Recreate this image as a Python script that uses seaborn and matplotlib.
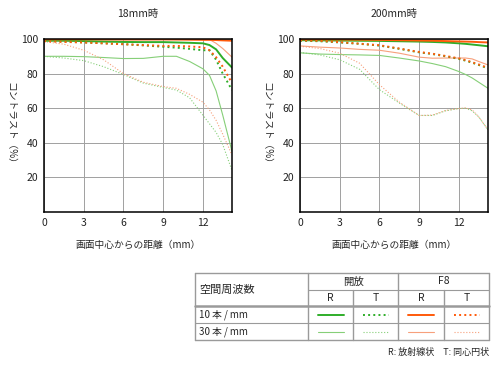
import pandas as pd
import seaborn as sns
import matplotlib.pyplot as plt

sns.set_theme(style="white")
plt.rcParams['font.family'] = ['Noto Sans CJK JP', 'DejaVu Sans']

# distance from image centre (mm)
X = [0, 1.5, 3, 4.5, 6, 7.5, 9, 10, 11, 12, 12.5, 13, 13.5, 14.2]

# 18mm
w18_open_R10 = [99, 99, 98.8, 98.5, 98.3, 98.2, 98.2, 98, 97.8, 97.5, 96.5, 94, 89, 83.5]
w18_open_T10 = [99, 98.5, 98, 97.5, 97, 96.3, 95.5, 95, 94.3, 93.5, 93.5, 88, 80, 70.5]
w18_f8_R10 = [99.8, 99.8, 99.8, 99.8, 99.8, 99.8, 99.8, 99.7, 99.6, 99.5, 99.5, 99.4, 99.2, 99]
w18_f8_T10 = [98.7, 98.3, 98, 97.5, 97, 96.5, 96, 96, 95.7, 95.2, 93.5, 89.5, 84, 74.5]
w18_open_R30 = [90, 90, 89.8, 89.3, 88.7, 88.8, 90, 90, 87, 82.8, 79, 70, 56, 35]
w18_open_T30 = [90, 89, 87.5, 84, 79.5, 74.5, 72, 70.5, 66, 56, 51, 46, 39, 24]
w18_f8_R30 = [99.5, 99.5, 99.5, 99.5, 99.5, 99.5, 99.6, 99.7, 99.8, 100, 99.7, 97.5, 94.5, 89.5]
w18_f8_T30 = [98.5, 97, 93.5, 88, 80, 75, 72.5, 71.5, 68, 63.5, 59, 53, 45, 33]

# 200mm
t200_open_R10 = [99.3, 99.2, 99.1, 99, 98.9, 98.7, 98.5, 98.3, 98, 97.5, 97.2, 96.8, 96.4, 95.8]
t200_open_T10 = [99, 98.7, 98, 97.2, 96.2, 94.3, 92.3, 91.3, 90, 88.5, 87.5, 86.3, 85, 83]
t200_f8_R10 = [99.8, 99.8, 99.7, 99.6, 99.5, 99.3, 99.1, 99, 98.8, 98.6, 98.5, 98.4, 98.2, 98]
t200_f8_T10 = [99.2, 98.9, 98.2, 97.3, 96.4, 94.5, 92.5, 91.5, 90.2, 88.8, 87.8, 86.6, 85.3, 83.3]
t200_open_R30 = [92, 91.3, 91, 90.8, 90.5, 89, 87.3, 85.8, 84, 81.2, 79.5, 77.5, 75, 71.5]
t200_open_T30 = [92.2, 90.8, 88, 82.5, 70.7, 63, 55.8, 55.8, 58.5, 59.8, 60, 58.5, 55, 47.5]
t200_f8_R30 = [96, 95.3, 94.8, 94, 93.5, 91.8, 89.5, 88.9, 89, 89, 89, 88.5, 87, 85]
t200_f8_T30 = [95.8, 94.5, 91.8, 86, 73.6, 63.5, 55.8, 56, 58.7, 59.8, 60.2, 59, 55, 47.5]

titles = ["18mm時", "200mm時"]
xlabel = "画面中心からの距離（mm）"
ylabel = "コントラスト（%）"

GREEN, GREEN_L = "#2fae2a", "#86cf78"
ORANGE, ORANGE_L = "#ff5a0a", "#f7a07c"

# colour, width, style per series
styles = {
    "open_R10": (GREEN, 1.4, "-"),
    "open_T10": (GREEN, 1.4, ":"),
    "f8_R10": (ORANGE, 1.4, "-"),
    "f8_T10": (ORANGE, 1.4, ":"),
    "open_R30": (GREEN_L, 0.8, "-"),
    "open_T30": (GREEN_L, 0.8, ":"),
    "f8_R30": (ORANGE_L, 0.8, "-"),
    "f8_T30": (ORANGE_L, 0.8, ":"),
}
panels = [
    {"open_R30": w18_open_R30, "open_T30": w18_open_T30, "f8_R30": w18_f8_R30, "f8_T30": w18_f8_T30,
     "open_R10": w18_open_R10, "open_T10": w18_open_T10, "f8_T10": w18_f8_T10, "f8_R10": w18_f8_R10},
    {"open_R30": t200_open_R30, "open_T30": t200_open_T30, "f8_R30": t200_f8_R30, "f8_T30": t200_f8_T30,
     "open_R10": t200_open_R10, "open_T10": t200_open_T10, "f8_T10": t200_f8_T10, "f8_R10": t200_f8_R10},
]

fig = plt.figure(figsize=(5, 3.65), dpi=100)
fig.patch.set_facecolor("white")

lefts = [44 / 500, 300 / 500]
for i, data in enumerate(panels):
    ax = fig.add_axes([lefts[i], 1 - 212 / 365, 188 / 500, 173 / 365])
    for key, ys in data.items():
        c, lw, ls = styles[key]
        df = pd.DataFrame({"x": X, "y": ys})
        sns.lineplot(data=df, x="x", y="y", ax=ax, color=c, lw=lw, ls=ls)
    ax.set_xlim(0, 14.2)
    ax.set_ylim(0, 100)
    ax.set_xticks([0, 3, 6, 9, 12])
    ax.set_yticks([20, 40, 60, 80, 100])
    ax.grid(True, color="#a0a0a0", lw=0.7)
    ax.set_axisbelow(True)
    ax.tick_params(length=0, labelsize=7.5, pad=4, colors="#222222")
    for s in ax.spines.values():
        s.set_color("black")
        s.set_linewidth(1.1)
    ax.set_title(titles[i], fontsize=7.5, pad=16)
    ax.set_xlabel(xlabel, fontsize=7, labelpad=9)
    ax.set_ylabel(ylabel, fontsize=7, rotation=270, va="center")
    ax.yaxis.set_label_coords(-0.18, 0.5)

# spatial frequency table
header = "空間周波数"
col_groups = ["開放", "F8"]
sub_cols = ["R", "T", "R", "T"]
row_labels = ["10 本 / mm", "30 本 / mm"]
note = "R: 放射線状　T: 同心円状"

tab = fig.add_axes([0, 0, 1, 1])
tab.set_xlim(0, 500)
tab.set_ylim(365, 0)
tab.axis("off")
tab.patch.set_alpha(0)

L, R = 195, 489
cx = [308, 353, 398, 444, R]
ry = [273, 290, 306, 323, 340]
gray = "#9a9a9a"
tab.plot([L, R], [ry[0], ry[0]], color=gray, lw=1)
tab.plot([cx[0], R], [ry[1], ry[1]], color=gray, lw=0.8)
tab.plot([L, R], [ry[2], ry[2]], color=gray, lw=1.8)
tab.plot([L, R], [ry[3], ry[3]], color=gray, lw=0.8)
tab.plot([L, R], [ry[4], ry[4]], color=gray, lw=1)
for x in [L, cx[0], cx[2], R]:
    tab.plot([x, x], [ry[0], ry[4]], color=gray, lw=1)
for x in [cx[1], cx[3]]:
    tab.plot([x, x], [ry[1], ry[4]], color=gray, lw=1)

tab.text(199, (ry[0] + ry[2]) / 2, header, fontsize=8, va="center", ha="left")
for j, g in enumerate(col_groups):
    tab.text((cx[2 * j] + cx[2 * j + 2]) / 2, (ry[0] + ry[1]) / 2, g, fontsize=7.5, ha="center", va="center")
for j, s in enumerate(sub_cols):
    tab.text((cx[j] + cx[j + 1]) / 2, (ry[1] + ry[2]) / 2, s, fontsize=7.5, ha="center", va="center")

sample_keys = [["open_R10", "open_T10", "f8_R10", "f8_T10"],
               ["open_R30", "open_T30", "f8_R30", "f8_T30"]]
for r, lab in enumerate(row_labels):
    yc = (ry[2 + r] + ry[3 + r]) / 2
    tab.text(199, yc, lab, fontsize=7, va="center", ha="left")
    for j, key in enumerate(sample_keys[r]):
        c, lw, ls = styles[key]
        mid = (cx[j] + cx[j + 1]) / 2
        tab.plot([mid - 13, mid + 13], [yc, yc], color=c, lw=lw, ls=ls)

tab.text(R, 352, note, fontsize=6.5, ha="right", va="center")

fig.savefig("out.png", dpi=100, facecolor="white")
